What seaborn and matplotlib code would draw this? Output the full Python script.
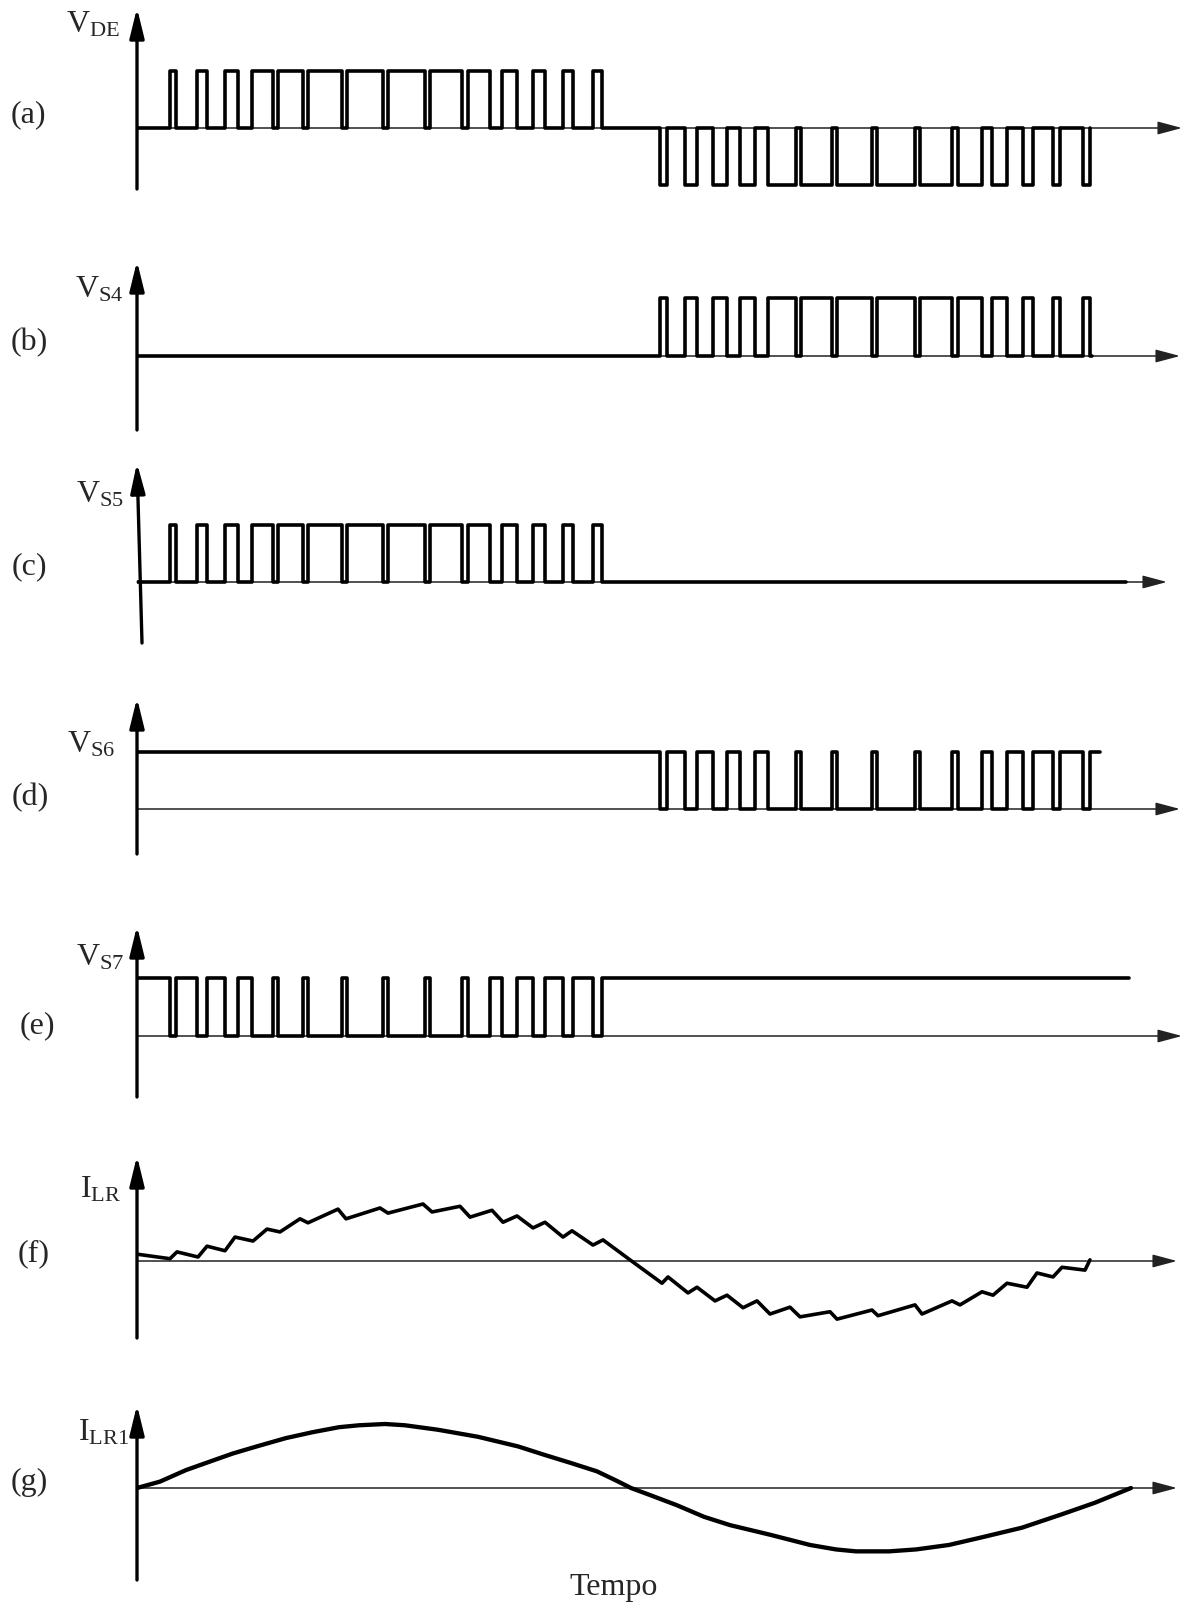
import numpy as np
import pandas as pd
import matplotlib
matplotlib.use('Agg')
import matplotlib.pyplot as plt
import seaborn as sns

sns.set_style('white')
plt.rcParams['font.family'] = ['Liberation Serif', 'DejaVu Serif']
plt.rcParams['mathtext.fontset'] = 'custom'
plt.rcParams['mathtext.rm'] = 'Liberation Serif'

# --- data (time in arbitrary units, 0 = vertical axis) ---
# switching instants of the positive half cycle
pos_on = [33, 60, 88, 115, 141, 171, 210, 251, 293, 331, 365, 396, 426, 456]
pos_off = [39, 70, 101, 136, 166, 205, 246, 288, 325, 353, 380, 408, 436, 465]
# switching instants of the negative half cycle
neg_on = [523, 548, 576, 603, 631, 664, 700, 740, 783, 821, 855, 886, 916, 946]
neg_off = [530, 560, 590, 618, 659, 695, 735, 778, 815, 845, 870, 896, 923, 953]

# resonant inductor current (with ripple)
ilr_t = [0, 33, 40, 61, 70, 88, 98, 116, 130, 143, 163, 171, 201, 209, 243, 251,
         286, 295, 323, 333, 355, 366, 380, 396, 408, 426, 435, 456, 466, 493,
         525, 531, 551, 560, 578, 590, 606, 620, 633, 653, 663, 693, 700, 735,
         741, 778, 785, 815, 823, 845, 856, 870, 890, 900, 916, 925, 948, 953]
ilr_v = [0.12, 0.04, 0.16, 0.07, 0.26, 0.18, 0.42, 0.35, 0.56, 0.51, 0.74, 0.67,
         0.91, 0.74, 0.93, 0.84, 1.00, 0.86, 0.96, 0.77, 0.89, 0.68, 0.79, 0.58,
         0.68, 0.42, 0.53, 0.28, 0.37, 0.02, -0.39, -0.28, -0.56, -0.46, -0.70,
         -0.60, -0.82, -0.70, -0.93, -0.81, -0.98, -0.89, -1.02, -0.86, -0.96,
         -0.77, -0.93, -0.70, -0.77, -0.54, -0.60, -0.39, -0.46, -0.21, -0.28,
         -0.11, -0.16, 0.02]

# fundamental component of the inductor current
ilr1_t = [0, 23, 49, 76, 96, 122, 149, 175, 202, 222, 248, 268, 301, 341, 381,
          407, 434, 460, 480, 494, 513, 540, 567, 593, 633, 673, 699, 719, 752,
          779, 812, 845, 885, 925, 958, 994]
ilr1_v = [0, 0.10, 0.28, 0.43, 0.54, 0.66, 0.78, 0.87, 0.95, 0.98, 1.00, 0.98,
          0.91, 0.80, 0.65, 0.52, 0.39, 0.26, 0.11, 0, -0.11, -0.27, -0.45,
          -0.58, -0.73, -0.89, -0.96, -0.99, -0.99, -0.96, -0.89, -0.77, -0.62,
          -0.41, -0.23, 0]

panel_tags = ['(a)', '(b)', '(c)', '(d)', '(e)', '(f)', '(g)']
panel_names = [r'$\mathregular{V_{DE}}$', r'$\mathregular{V_{S4}}$',
               r'$\mathregular{V_{S5}}$', r'$\mathregular{V_{S6}}$',
               r'$\mathregular{V_{S7}}$', r'$\mathregular{I_{LR}}$',
               r'$\mathregular{I_{LR1}}$']


def steps(segments, base, t_end):
    t, v = [0], [base]
    for on, off, level in segments:
        t += [on, off]
        v += [level, base]
    t.append(t_end)
    v.append(base)
    return pd.DataFrame({'t': t, 'v': v})


pos = list(zip(pos_on, pos_off, [1] * len(pos_on)))
neg = list(zip(neg_on, neg_off, [-1] * len(neg_on)))
neg_up = list(zip(neg_on, neg_off, [1] * len(neg_on)))
pos_gap = list(zip(pos_on, pos_off, [0] * len(pos_on)))
neg_gap = list(zip(neg_on, neg_off, [0] * len(neg_on)))

waves = [
    steps(pos + neg, 0, 953),
    steps(neg_up, 0, 955),
    steps(pos, 0, 989),
    steps(neg_gap, 1, 963),
    steps(pos_gap, 1, 992),
    pd.DataFrame({'t': ilr_t, 'v': ilr_v}),
    pd.DataFrame({'t': ilr1_t, 'v': ilr1_v}),
]
is_step = [True, True, True, True, True, False, False]

# --- layout in pixels: top, zero, bottom, unit, arrow tip, axis skew,
#     tag y, name right x, name y
W, H = 1183, 1604
X0 = 137
layout = [
    (8, 128, 189, 57, 1182, 0, 115, 120, 25),
    (261, 356, 430, 58, 1180, 0, 343, 124, 290),
    (463, 582, 643, 57, 1167, 5, 567, 124, 495),
    (698, 809, 854, 57, 1180, 0, 798, 115, 745),
    (926, 1036, 1097, 58, 1182, 0, 1026, 124, 958),
    (1156, 1261, 1338, 57, 1177, 0, 1254, 121, 1190),
    (1405, 1488, 1580, 64, 1177, 0, 1482, 129, 1433),
]
tag_x = [28, 29, 29, 30, 37, 34, 29]

fig = plt.figure(figsize=(W / 100, H / 100), dpi=100)
fs = 23

for i, (top, zero, bot, unit, tip, skew, ty, nx, ny) in enumerate(layout):
    ax = fig.add_axes([X0 / W, 1 - bot / H, (W - X0) / W, (bot - top) / H])
    ylo, yhi = (zero - bot) / unit, (zero - top) / unit
    ax.set_xlim(0, W - X0)
    ax.set_ylim(ylo, yhi)
    ax.axis('off')

    # time axis
    ax.annotate('', xy=(tip - X0, 0), xytext=(0, 0),
                arrowprops=dict(arrowstyle='-|>,head_length=0.75,head_width=0.2',
                                lw=1.1, color='#222222', mutation_scale=20,
                                shrinkA=0, shrinkB=0),
                annotation_clip=False, zorder=1)
    # vertical axis
    ax.annotate('', xy=(0, yhi), xytext=(skew, ylo),
                arrowprops=dict(arrowstyle='-|>,head_length=0.9,head_width=0.22',
                                lw=2.4, color='black', mutation_scale=20,
                                shrinkA=0, shrinkB=0),
                annotation_clip=False, zorder=3)

    kw = dict(drawstyle='steps-post') if is_step[i] else {}
    sns.lineplot(data=waves[i], x='t', y='v', ax=ax, color='black',
                 lw=2.6 if i < 6 else 3.1, estimator=None, sort=False,
                 legend=False, zorder=2, **kw)
    ax.set_xlabel('')
    ax.set_ylabel('')

    fig.text(tag_x[i] / W, 1 - ty / H, panel_tags[i], fontsize=fs,
             ha='center', va='center')
    fig.text(nx / W, 1 - ny / H, panel_names[i], fontsize=fs,
             ha='right', va='center')

fig.text(614 / W, 1 - 1588 / H, 'Tempo', fontsize=fs, ha='center', va='center')

fig.savefig('out.png', dpi=100, facecolor='white')
